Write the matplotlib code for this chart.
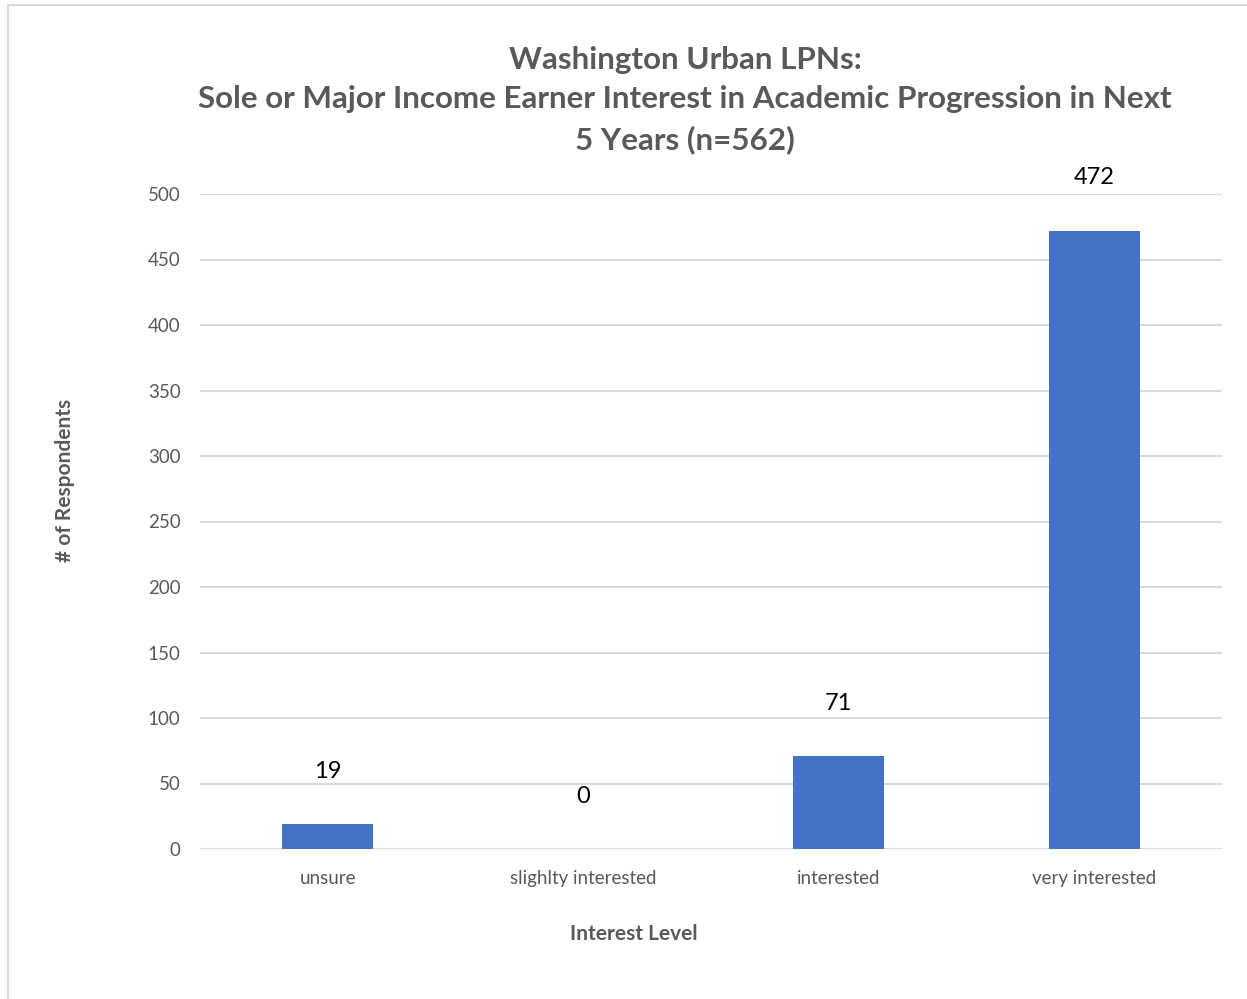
import matplotlib.pyplot as plt
import matplotlib
from matplotlib.lines import Line2D

matplotlib.rcParams['font.family'] = ['Lato', 'DejaVu Sans']

# data
categories = ['unsure', 'slighlty interested', 'interested', 'very interested']
counts = [19, 0, 71, 472]
title = 'Washington Urban LPNs:\nSole or Major Income Earner Interest in Academic Progression in Next\n5 Years (n=562)'

W, H = 1247, 999
fig = plt.figure(figsize=(W / 100, H / 100), dpi=100)
ax = fig.add_axes([200 / W, 1 - 849 / H, 1022 / W, (849 - 194) / H])

x = list(range(len(categories)))
bars = ax.bar(x, counts, width=0.355, color='#4472C4', zorder=3)
ax.set_xlim(-0.5, len(categories) - 0.5)
ax.set_ylim(0, 500)
ax.set_yticks(range(0, 501, 50))
ax.set_xticks(x)
ax.set_xticklabels(categories)

for s in ax.spines.values():
    s.set_visible(False)
ax.grid(axis='y', color='#D9D9D9', linewidth=1.5, zorder=0)
ax.axhline(0, color='#D9D9D9', linewidth=1.5, zorder=1)
ax.tick_params(axis='both', length=0, colors='#595959', labelsize=13.5)
ax.tick_params(axis='y', pad=14)
ax.tick_params(axis='x', pad=15)

for b, v in zip(bars, counts):
    ax.annotate(str(v), (b.get_x() + b.get_width() / 2, v), xytext=(0, 38),
                textcoords='offset points', ha='center', va='center',
                fontsize=17, color='black', annotation_clip=False)

fig.text(685 / W, 1 - 100 / H, title, ha='center', va='center', fontsize=22.6,
         fontweight='bold', color='#595959', linespacing=1.5)
fig.text(634 / W, 1 - 934 / H, 'Interest Level', ha='center', va='center',
         fontsize=15, fontweight='bold', color='#595959')
fig.text(65 / W, 1 - 480 / H, '# of Respondents', ha='center', va='center',
         rotation=90, fontsize=15, fontweight='bold', color='#595959')

# chart frame (top and left edges visible)
fig.add_artist(Line2D([8 / W, 8 / W, 1.0], [0.0, 1 - 5 / H, 1 - 5 / H],
                      transform=fig.transFigure, color='#D9D9D9', linewidth=1.5))

plt.savefig('out.png', dpi=100)
plt.close()
